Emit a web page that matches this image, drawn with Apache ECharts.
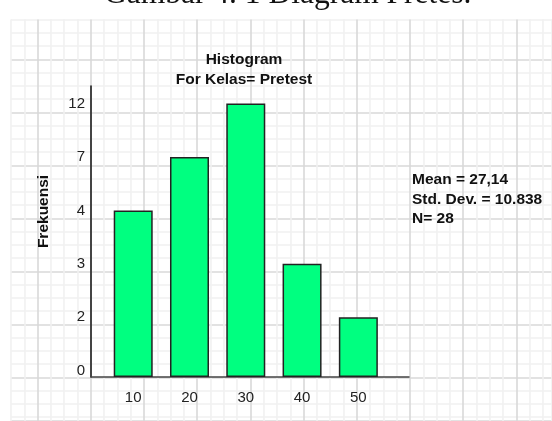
<!DOCTYPE html>
<html>
<head>
<meta charset="utf-8">
<script src="https://cdn.jsdelivr.net/npm/echarts@6/dist/echarts.min.js"></script>
<style>html,body{margin:0;padding:0;background:#fff;}#c{width:552px;height:421px;}</style>
</head>
<body>
<div id="c"></div>
<script>
// ---- data ----
var xCategories = [10, 20, 30, 40, 50];
var frequencies = [4, 7, 12, 3, 2];
var yTickLabels = ['0', '2', '3', '4', '7', '12'];
var statsLines = ['Mean = 27,14', 'Std. Dev. = 10.838', 'N= 28'];
var titleLines = ['Histogram', 'For Kelas= Pretest'];
var captionText = 'Gambar 4. 1 Diagram Pretes.';

// bar heights follow the (ordinal) tick labels of the drawn y axis
var barData = xCategories.map(function (c, i) {
  return [c, yTickLabels.indexOf(String(frequencies[i]))];
});

var MAJOR = '#d9d9d9', MINOR = '#f1f1f1';
var chart = echarts.init(document.getElementById('c'), null, {renderer: 'canvas'});
var font = 'Liberation Sans, Arial, sans-serif';
chart.setOption({
  animation: false,
  backgroundColor: '#fff',
  textStyle: {fontFamily: font},
  title: [
    {text: titleLines.join('\n'), left: 239, top: 45, textAlign: 'center',
     textStyle: {fontSize: 15.5, fontWeight: 'bold', color: '#111', lineHeight: 20, fontFamily: font}},
    {text: statsLines.join('\n'), left: 407, top: 165,
     textStyle: {fontSize: 15.5, fontWeight: 'bold', color: '#111', lineHeight: 19.5, fontFamily: font}}
  ],
  graphic: [{
    type: 'text', left: 104, top: -21,
    style: {text: captionText, font: '31.5px "Liberation Serif", "Times New Roman", serif', fill: '#111'}
  }],
  grid: [
    {left: 91, right: 143, top: 86, bottom: 44, z: 2},
    {left: 11, right: 0, top: 19.5, bottom: 0, z: 0}
  ],
  xAxis: [
    {gridIndex: 0, type: 'value', min: 2.5, max: 59,
     axisLine: {show: true, onZero: false, lineStyle: {color: '#444', width: 1.5}},
     axisTick: {show: false}, splitLine: {show: false},
     axisLabel: {color: '#222', fontSize: 15, margin: 13, fontFamily: font,
       formatter: function (v) { return (v % 10 === 0 && v >= 10 && v <= 50) ? String(v) : ''; }}},
    {gridIndex: 1, type: 'value', min: 0, max: 541 / 13.3, interval: 1,
     axisLine: {show: false}, axisTick: {show: false}, axisLabel: {show: false},
     splitLine: {show: true, lineStyle: {color: [MINOR, MINOR, MAJOR, MINOR], width: 1.6}}}
  ],
  yAxis: [
    {gridIndex: 0, type: 'value', min: -0.12, max: 5.33, startValue: -0.12,
     name: 'Frekuensi', nameLocation: 'middle', nameRotate: 90, nameGap: 39,
     nameTextStyle: {fontSize: 15.5, fontWeight: 'bold', color: '#111', fontFamily: font, padding: [0, 0, 0, 40]},
     axisLine: {show: true, onZero: false, lineStyle: {color: '#111', width: 1.5}},
     axisTick: {show: false}, splitLine: {show: false},
     axisLabel: {color: '#222', fontSize: 15, margin: 6, fontFamily: font,
       formatter: function (v) {
         var r = Math.round(v);
         return (Math.abs(v - r) < 1e-6 && r >= 0 && r < yTickLabels.length) ? yTickLabels[r] : '';
       }}},
    {gridIndex: 1, type: 'value', inverse: true, min: 0, max: 401.5 / 13.25, interval: 1,
     axisLine: {show: false}, axisTick: {show: false}, axisLabel: {show: false},
     splitLine: {show: true, lineStyle: {color: [MINOR, MINOR, MINOR, MAJOR], width: 1.6}}}
  ],
  series: [{
    type: 'bar', xAxisIndex: 0, yAxisIndex: 0, barWidth: 39,
    data: barData,
    itemStyle: {color: '#00ff80', borderColor: '#222', borderWidth: 1.5}
  }]
});
</script>
</body>
</html>
